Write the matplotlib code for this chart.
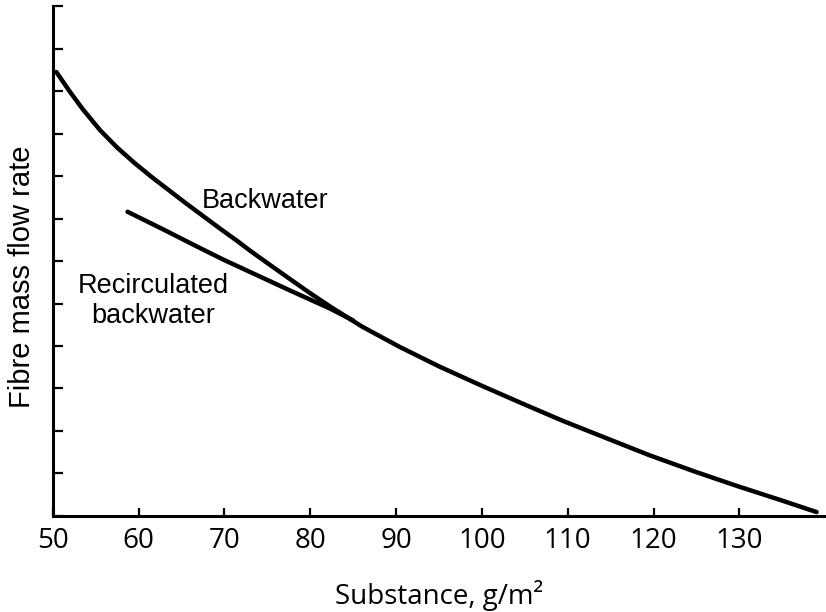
import matplotlib
matplotlib.use("Agg")
import matplotlib.pyplot as plt

# values (y in tick units, the chart prints no scale)
backwater_x = [50.4, 52.0, 53.5, 55.5, 57.5, 59.5, 61.5, 63.5, 65.5, 67.5, 69.5, 71.5,
               73.0, 75.5, 77.6, 80.0, 82.3, 86.0, 90.4, 95.0, 99.8, 105.0, 109.4,
               115.0, 119.5, 125.0, 129.8, 135.0, 139.0]
backwater_y = [10.45, 9.98, 9.57, 9.08, 8.67, 8.31, 7.98, 7.67, 7.36, 7.06, 6.76, 6.47,
               6.24, 5.88, 5.58, 5.24, 4.93, 4.46, 3.98, 3.52, 3.08, 2.62, 2.24,
               1.79, 1.43, 1.03, 0.70, 0.36, 0.09]

recirc_x = [58.7, 63.0, 67.1, 70.0, 73.0, 77.6, 82.3, 85.0]
recirc_y = [7.16, 6.73, 6.31, 6.02, 5.74, 5.31, 4.88, 4.60]

xticks = [50, 60, 70, 80, 90, 100, 110, 120, 130]
yticks = list(range(13))

plt.rcParams['font.family'] = ['Open Sans', 'DejaVu Sans']

fig = plt.figure(figsize=(8.26, 6.12), dpi=100)
ax = fig.add_axes([0.064, 0.157, 0.935, 0.833])

ax.plot(backwater_x, backwater_y, color='black', lw=3.2, solid_capstyle='round',
        solid_joinstyle='round')
ax.plot(recirc_x, recirc_y, color='black', lw=3.2, solid_capstyle='round',
        solid_joinstyle='round')

ax.set_xlim(50, 140)
ax.set_ylim(0, 12)
ax.set_xticks(xticks)
ax.set_yticks(yticks)
ax.set_yticklabels([])
ax.tick_params(direction='in', length=6, width=1.6, labelsize=20, pad=8)
ax.tick_params(axis='y', length=7)

ax.spines['right'].set_visible(False)
ax.spines['top'].set_visible(False)
ax.spines['left'].set_linewidth(2.2)
ax.spines['bottom'].set_linewidth(2.2)

ax.set_xlabel('Substance, g/m²', fontsize=20, labelpad=18)
fig.text(22 / 826, 1 - 277 / 612, 'Fibre mass flow rate', rotation=90,
         ha='center', va='center', fontsize=21, family='Liberation Sans')

ax.text(67.4, 7.25, 'Backwater', fontsize=19.5, family='Liberation Sans')
ax.text(52.9, 5.25, 'Recirculated', fontsize=19.5, family='Liberation Sans')
ax.text(54.5, 4.55, 'backwater', fontsize=19.5, family='Liberation Sans')

fig.savefig('out.png', dpi=100)
